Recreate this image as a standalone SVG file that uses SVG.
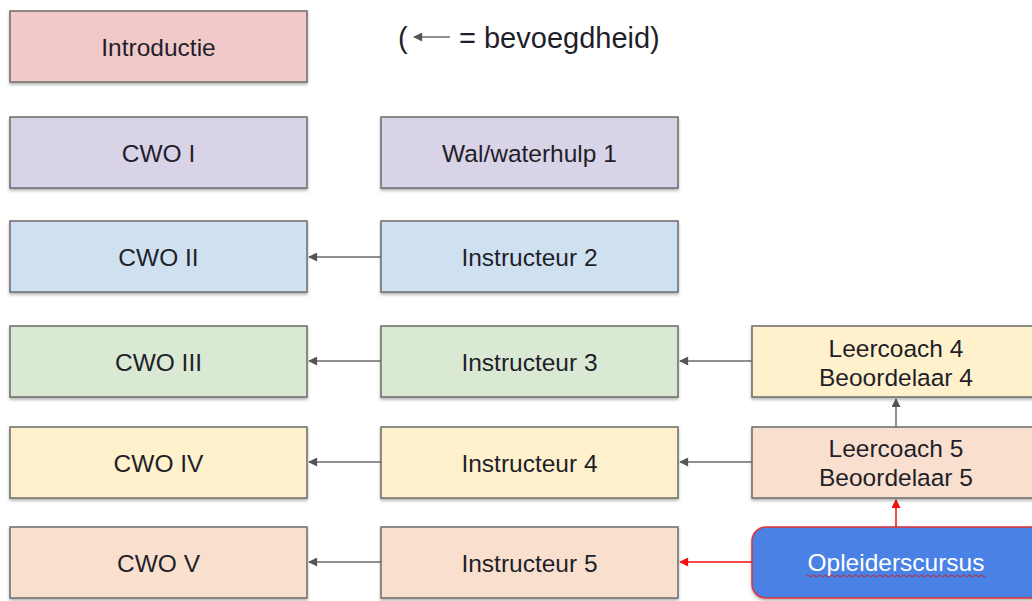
<svg xmlns="http://www.w3.org/2000/svg" width="1032" height="601" viewBox="0 0 1032 601">
<style>
.box{stroke:#6b6b6b;stroke-width:1.5;filter:url(#sh)}
.t{font-family:"Liberation Sans",Arial,sans-serif;font-size:24.5px;fill:#1f1f2a;text-anchor:middle;dominant-baseline:central}
.c{stroke:#6b6b6b;stroke-width:1.5;fill:none;marker-end:url(#ag)}
.r{stroke:#f01010;stroke-width:1.5;fill:none;marker-end:url(#ar)}
</style>
<defs>
<filter id="sh" x="-5%" y="-10%" width="110%" height="130%">
<feDropShadow dx="0" dy="2" stdDeviation="1.5" flood-color="#000" flood-opacity="0.3"/>
</filter>
<marker id="ag" viewBox="0 0 10 10" refX="9" refY="5" markerWidth="10" markerHeight="9" markerUnits="userSpaceOnUse" orient="auto"><path d="M0,0 L10,5 L0,10 z" fill="#555"/></marker>
<marker id="ar" viewBox="0 0 10 10" refX="9" refY="5" markerWidth="10" markerHeight="9" markerUnits="userSpaceOnUse" orient="auto"><path d="M0,0 L10,5 L0,10 z" fill="#f01010"/></marker>
</defs>
<rect width="1032" height="601" fill="#fff"/>

<g id="legend">
<text x="398" y="38" font-family="'Liberation Sans',Arial,sans-serif" font-size="29" fill="#1f1f2a" dominant-baseline="central">(</text>
<line x1="450" y1="37" x2="414" y2="37" class="c"/>
<text x="459" y="38" font-family="'Liberation Sans',Arial,sans-serif" font-size="29" fill="#1f1f2a" dominant-baseline="central">= bevoegdheid)</text>
</g>

<g id="connectors">
<line class="c" x1="381" y1="257" x2="309" y2="257"/>
<line class="c" x1="381" y1="361" x2="309" y2="361"/>
<line class="c" x1="381" y1="462" x2="309" y2="462"/>
<line class="c" x1="381" y1="562" x2="309" y2="562"/>
<line class="c" x1="752" y1="361" x2="680" y2="361"/>
<line class="c" x1="752" y1="462" x2="680" y2="462"/>
<line class="c" x1="896" y1="427" x2="896" y2="399"/>
<line class="r" x1="752" y1="562" x2="680" y2="562"/>
<line class="r" x1="896" y1="527" x2="896" y2="500"/>
</g>

<g id="introductie"><rect class="box" x="10" y="11" width="297" height="71" fill="#f2c9c9"/><text class="t" x="158.5" y="47">Introductie</text></g>
<g id="cwo1"><rect class="box" x="10" y="117" width="297" height="71" fill="#d9d3e7"/><text class="t" x="158.5" y="153">CWO I</text></g>
<g id="wal1"><rect class="box" x="381" y="117" width="297" height="71" fill="#d9d3e7"/><text class="t" x="529.5" y="153">Wal/waterhulp 1</text></g>
<g id="cwo2"><rect class="box" x="10" y="221" width="297" height="71" fill="#cfe1f1"/><text class="t" x="158.5" y="257">CWO II</text></g>
<g id="instr2"><rect class="box" x="381" y="221" width="297" height="71" fill="#cfe1f1"/><text class="t" x="529.5" y="257">Instructeur 2</text></g>
<g id="cwo3"><rect class="box" x="10" y="326" width="297" height="71" fill="#d9e9d4"/><text class="t" x="158.5" y="362">CWO III</text></g>
<g id="instr3"><rect class="box" x="381" y="326" width="297" height="71" fill="#d9e9d4"/><text class="t" x="529.5" y="362">Instructeur 3</text></g>
<g id="leer4"><rect class="box" x="752" y="326" width="290" height="71" fill="#fff1cc"/><text class="t" x="896" y="348">Leercoach 4</text><text class="t" x="896" y="377">Beoordelaar 4</text></g>
<g id="cwo4"><rect class="box" x="10" y="427" width="297" height="71" fill="#fff1cc"/><text class="t" x="158.5" y="463">CWO IV</text></g>
<g id="instr4"><rect class="box" x="381" y="427" width="297" height="71" fill="#fff1cc"/><text class="t" x="529.5" y="463">Instructeur 4</text></g>
<g id="leer5"><rect class="box" x="752" y="427" width="290" height="71" fill="#f9e0ce"/><text class="t" x="896" y="448">Leercoach 5</text><text class="t" x="896" y="477">Beoordelaar 5</text></g>
<g id="cwo5"><rect class="box" x="10" y="527" width="297" height="71" fill="#f9e0ce"/><text class="t" x="158.5" y="563">CWO V</text></g>
<g id="instr5"><rect class="box" x="381" y="527" width="297" height="71" fill="#f9e0ce"/><text class="t" x="529.5" y="563">Instructeur 5</text></g>
<g id="opleiderscursus"><rect x="752" y="527" width="295" height="71" rx="14" fill="#4a82e4" stroke="#e0303a" stroke-width="1.5" filter="url(#sh)"/><text class="t" x="896" y="562" style="fill:#fff">Opleiderscursus</text>
<path d="M806,576 q1.5,-2 3,0 t3,0 t3,0 t3,0 t3,0 t3,0 t3,0 t3,0 t3,0 t3,0 t3,0 t3,0 t3,0 t3,0 t3,0 t3,0 t3,0 t3,0 t3,0 t3,0 t3,0 t3,0 t3,0 t3,0 t3,0 t3,0 t3,0 t3,0 t3,0 t3,0 t3,0 t3,0 t3,0 t3,0 t3,0 t3,0 t3,0 t3,0 t3,0 t3,0 t3,0 t3,0 t3,0 t3,0 t3,0 t3,0 t3,0 t3,0 t3,0 t3,0 t3,0 t3,0 t3,0 t3,0 t3,0 t3,0 t3,0 t3,0 t3,0 t3,0" fill="none" stroke="#d02020" stroke-width="1"/>
</g>
</svg>
